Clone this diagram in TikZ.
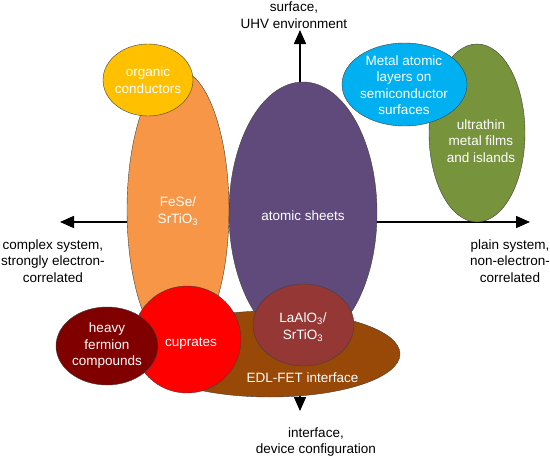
\documentclass[tikz,border=0pt]{standalone}
\usepackage{fontspec}
\setmainfont{Liberation Sans}
\usetikzlibrary{arrows.meta}

\definecolor{fesecol}{HTML}{F79646}
\definecolor{orgcol}{HTML}{FFC000}
\definecolor{sheetcol}{HTML}{604A7B}
\definecolor{metalcol}{HTML}{00B0F0}
\definecolor{filmcol}{HTML}{77933C}
\definecolor{edlcol}{HTML}{984807}
\definecolor{cupcol}{HTML}{FF0000}
\definecolor{heavycol}{HTML}{800000}
\definecolor{laocol}{HTML}{953735}

\begin{document}
\begin{tikzpicture}[
  x=1pt, y=-1pt,
  blob/.style={draw=black!75, line width=0.4pt},
  axis/.style={line width=1.5pt, -{Triangle[length=14pt,width=12pt]}},
  lbl/.style={align=center, inner sep=0pt, font=\fontsize{13.5}{16.5}\selectfont},
  inlbl/.style={lbl, text=white},
]

\useasboundingbox (0,0) rectangle (550,458);

\coordinate (o) at (300,222);
\coordinate (top) at (300,30);
\coordinate (bot) at (300,411);
\coordinate (lft) at (60,222);
\coordinate (rgt) at (530,222);

\draw [axis] (o) -- (top);
\draw [axis] (o) -- (bot);
\draw [axis] (o) -- (lft);
\draw [axis] (o) -- (rgt);

\node [lbl] (surf) at (294,15) {surface,\\UHV environment};
\node [lbl] (cplx) at (53,261) {complex system,\\strongly electron-\\correlated};
\node [lbl] (plain) at (510,261) {plain system,\\non-electron-\\correlated};
\node [lbl] (intf) at (316,442) {interface,\\device configuration};

\draw [blob, fill=fesecol] (178,210) ellipse [x radius=51, y radius=140];
\draw [blob, fill=sheetcol] (303,213) ellipse [x radius=74, y radius=131];
\draw [blob, fill=filmcol] (477,133) ellipse [x radius=48, y radius=89];
\draw [blob, fill=metalcol] (404.5,84.5) ellipse [x radius=62.5, y radius=41.5];
\draw [blob, fill=orgcol] (148,80) ellipse [x radius=45, y radius=36];
\draw [blob, fill=edlcol] (270,354) ellipse [x radius=130, y radius=43];
\draw [blob, fill=laocol] (303.5,325) ellipse [x radius=50.5, y radius=41];
\draw [blob, fill=cupcol] (187,339.5) ellipse [x radius=54, y radius=53.5];
\draw [blob, fill=heavycol] (107,346) ellipse [x radius=51, y radius=39];

\node [inlbl] (fese) at (178,211) {FeSe/\\SrTiO\textsubscript{3}};
\node [inlbl] (sheets) at (303,216) {atomic sheets};
\node [inlbl] (films) at (481,141) {ultrathin\\metal films\\and islands};
\node [inlbl] (metal) at (404,85) {Metal atomic\\layers on\\semiconductor\\surfaces};
\node [inlbl] (org) at (148,80) {organic\\conductors};
\node [inlbl] (edl) at (302.5,378) {EDL-FET interface};
\node [inlbl] (lao) at (303,327) {LaAlO\textsubscript{3}/\\SrTiO\textsubscript{3}};
\node [inlbl] (cup) at (191,344) {cuprates};
\node [inlbl] (heavy) at (107,346) {heavy\\fermion\\compounds};

\end{tikzpicture}
\end{document}
